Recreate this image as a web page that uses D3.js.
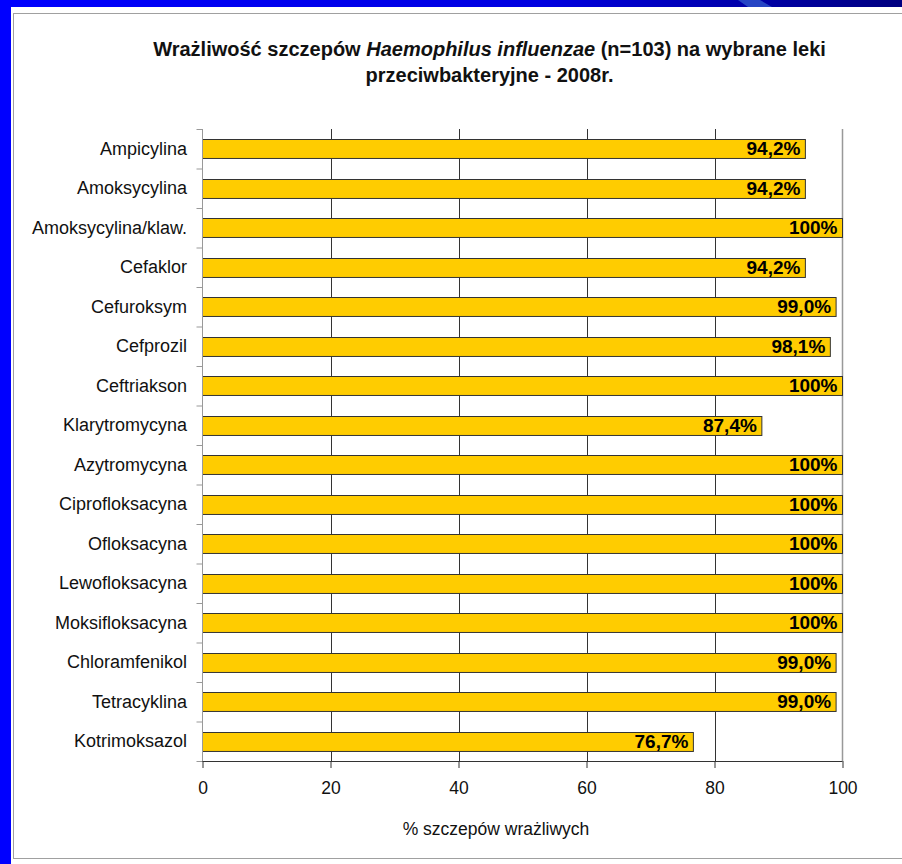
<!DOCTYPE html>
<html><head><meta charset="utf-8">
<script src="https://cdn.jsdelivr.net/npm/d3@7"></script>
<style>
html,body{margin:0;padding:0;background:#fff;}
svg{display:block;font-family:"Liberation Sans",Arial,sans-serif;}
</style></head>
<body><svg id="c" width="902" height="864"></svg>
<script>
const categories = ["Ampicylina","Amoksycylina","Amoksycylina/klaw.","Cefaklor","Cefuroksym","Cefprozil","Ceftriakson","Klarytromycyna","Azytromycyna","Ciprofloksacyna","Ofloksacyna","Lewofloksacyna","Moksifloksacyna","Chloramfenikol","Tetracyklina","Kotrimoksazol"];
const values = [94.2,94.2,100,94.2,99.0,98.1,100,87.4,100,100,100,100,100,99.0,99.0,76.7];
const xTicks = [0,20,40,60,80,100];
const titleLine1 = ["Wrażliwość szczepów ", "Haemophilus influenzae", " (n=103) na wybrane leki"];
const titleLine2 = "przeciwbakteryjne - 2008r.";
const xAxisTitle = "% szczepów wrażliwych";

const svg = d3.select("#c");
const W = 902, H = 864;

// slide frame
const defs = svg.append("defs");
const g1 = defs.append("linearGradient").attr("id","topg").attr("x1","0").attr("x2","1");
g1.append("stop").attr("offset","0").attr("stop-color","#0000ff");
g1.append("stop").attr("offset","0.6").attr("stop-color","#0000e0");
g1.append("stop").attr("offset","1").attr("stop-color","#000080");
svg.append("rect").attr("x",0).attr("y",0).attr("width",W).attr("height",H).attr("fill","#fff");
svg.append("rect").attr("x",0).attr("y",0).attr("width",W).attr("height",7).attr("fill","url(#topg)");
svg.append("polygon").attr("points","738,0 760,0 772,7 748,7").attr("fill","#2a4cc8").attr("opacity",0.9);
svg.append("rect").attr("x",0).attr("y",0).attr("width",11).attr("height",H).attr("fill","#0000ff");
// chart area border
svg.append("rect").attr("x",13.5).attr("y",13.5).attr("width",W+10).attr("height",845).attr("fill","#fff").attr("stroke","#a0a0a0").attr("stroke-width",1);

const pL = 202.5, pR = 842.5, pT = 129, pB = 761;
const x = d3.scaleLinear().domain([0,100]).range([pL,pR]);
const y = d3.scaleBand().domain(categories).range([pT,pB]).paddingInner(0.52).paddingOuter(0.26);

// gridlines
svg.append("g").selectAll("line").data(xTicks.filter(t=>t>0 && t<100)).join("line")
  .attr("x1",d=>Math.round(x(d))+0.5).attr("x2",d=>Math.round(x(d))+0.5)
  .attr("y1",pT).attr("y2",pB).attr("stroke","#333").attr("stroke-width",1);
// right border of plot
svg.append("line").attr("x1",pR).attr("x2",pR).attr("y1",pT).attr("y2",pB).attr("stroke","#999").attr("stroke-width",1.5);

// bars
svg.append("g").selectAll("rect").data(categories).join("rect")
  .attr("x",x(0)).attr("y",d=>Math.round(y(d))+0.5)
  .attr("width",(d,i)=>x(values[i])-x(0)).attr("height",y.bandwidth())
  .attr("fill","#ffcc00").attr("stroke","#333").attr("stroke-width",1);

// value labels
const fmt = v => (v===100 ? "100" : v.toFixed(1).replace(".",",")) + "%";
svg.append("g").selectAll("text").data(categories).join("text")
  .attr("x",(d,i)=>x(values[i])-5).attr("y",d=>y(d)+y.bandwidth()/2+6.5)
  .attr("text-anchor","end").attr("font-size",19).attr("font-weight","bold").attr("fill","#000")
  .text((d,i)=>fmt(values[i]));

// y axis
const yAxis = d3.axisLeft(d3.scaleLinear().domain([0,categories.length]).range([pT,pB]))
  .tickValues(d3.range(0,categories.length+1)).tickSize(6).tickFormat("");
const ya = svg.append("g").attr("transform",`translate(${pL},0)`).call(yAxis);
ya.selectAll("path,line").attr("stroke","#999");
ya.select(".domain").remove();
svg.append("line").attr("x1",pL).attr("x2",pL).attr("y1",pT).attr("y2",pB).attr("stroke","#999");
svg.append("g").selectAll("text").data(categories).join("text")
  .attr("x",187).attr("y",d=>y(d)+y.bandwidth()/2+6)
  .attr("text-anchor","end").attr("font-size",18).attr("fill","#111").text(d=>d);

// x axis
const xAxis = d3.axisBottom(x).tickValues(xTicks).tickSize(7).tickFormat(d=>d);
const xa = svg.append("g").attr("transform",`translate(0,${pB})`).call(xAxis);
xa.select(".domain").attr("stroke","#333").attr("d",`M${pL},0.5H${pR}`);
xa.selectAll(".tick line").attr("stroke","#333");
xa.selectAll(".tick text").attr("font-size",17.5).attr("fill","#111").attr("dy",0).attr("y",33).attr("font-family","'Liberation Sans',Arial,sans-serif");

svg.append("text").attr("x",496).attr("y",835).attr("text-anchor","middle").attr("font-size",17.5).attr("fill","#111").text(xAxisTitle);

// title
const t1 = svg.append("text").attr("x",489.5).attr("y",56).attr("text-anchor","middle").attr("font-size",20).attr("font-weight","bold").attr("fill","#111");
titleLine1.forEach((s,i)=>t1.append("tspan").attr("font-style",i===1?"italic":"normal").text(s));
svg.append("text").attr("x",489.5).attr("y",82).attr("text-anchor","middle").attr("font-size",20).attr("font-weight","bold").attr("fill","#111").text(titleLine2);
</script></body></html>
